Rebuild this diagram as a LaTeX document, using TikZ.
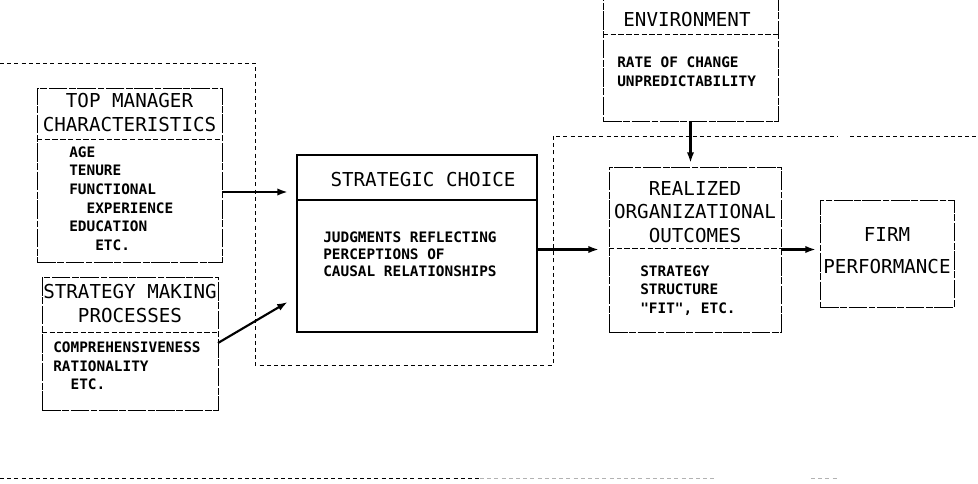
\documentclass[tikz,border=0pt]{standalone}
\usepackage{fontspec}
\usetikzlibrary{calc,arrows.meta}
\newfontfamily\plotfont{DejaVu Sans Mono}

\begin{document}
\begin{tikzpicture}[x=0.75pt, y=-0.75pt,
    box/.style={draw, line width=0.6pt, dash pattern=on 14pt off 1.2pt on 5pt off 1.2pt, inner sep=0pt, outer sep=0pt},
    solidbox/.style={draw, line width=0.9pt, inner sep=0pt, outer sep=0pt},
    divline/.style={line width=0.6pt, dash pattern=on 4pt off 1.8pt},
    frameline/.style={line width=0.6pt, dash pattern=on 3pt off 2.4pt},
    head/.style={font=\plotfont\fontsize{14.4}{17.5}\selectfont, align=center, inner sep=0pt},
    items/.style={font=\plotfont\bfseries\fontsize{10.8}{14}\selectfont, align=left, anchor=west, inner sep=0pt},
    arr/.style={-{Latex[length=8pt,width=5.5pt]}, line width=1.6pt}]
    \useasboundingbox (0,0) rectangle (978,484);
    \clip (0,0) rectangle (978,484);

    % frame lines
    \draw[frameline] (0,63) -- (255,63) -- (255,365) -- (553,365) -- (553,136) -- (838,136);
    \draw[frameline] (850,136) -- (978,136);
    \draw[frameline] (0,478) -- (480,478);
    \draw[frameline, gray!60] (480,478) -- (717,478);
    \draw[frameline, gray!60] (811,478) -- (839,478);

    \node[box, minimum width=138.75pt, minimum height=130.5pt] (tmc) at (129.5,175) {};
    \node[head] (tmchead) at ($(tmc.north)+(0,24.5)$) {TOP MANAGER\\CHARACTERISTICS};
    \node[items] (tmcitems) at ($(tmc.north west)+(32,110.5)$) {AGE\\TENURE\\FUNCTIONAL\\\phantom{XX}EXPERIENCE\\EDUCATION\\\phantom{XXX}ETC.};
    \draw[divline] ($(tmc.north west)+(0,51)$) -- ($(tmc.north east)+(0,51)$);

    \node[box, minimum width=132pt, minimum height=99.75pt] (smp) at (130,343.5) {};
    \node[head] (smphead) at ($(smp.north)+(0,26.5)$) {STRATEGY MAKING\\PROCESSES};
    \node[items] (smpitems) at ($(smp.north west)+(11,89)$) {COMPREHENSIVENESS\\RATIONALITY\\\phantom{XX}ETC.};
    \draw[divline] ($(smp.north west)+(0,55)$) -- ($(smp.north east)+(0,55)$);

    \node[solidbox, minimum width=180pt, minimum height=132.75pt] (sc) at (417,243.5) {};
    \node[head] (schead) at ($(sc.north)+(6,25)$) {STRATEGIC CHOICE};
    \node[items, font=\plotfont\bfseries\fontsize{10.8}{12.75}\selectfont] (scitems) at ($(sc.north west)+(26,99)$) {JUDGMENTS REFLECTING\\PERCEPTIONS OF\\CAUSAL RELATIONSHIPS};
    \draw[line width=0.9pt] ($(sc.north west)+(0,45)$) -- ($(sc.north east)+(0,45)$);

    \node[box, minimum width=131.25pt, minimum height=113.25pt] (env) at (690.5,45.5) {};
    \node[head] (envhead) at ($(env.north)+(-3.5,50)$) {ENVIRONMENT};
    \node[items] (envitems) at ($(env.north west)+(14,101.5)$) {RATE OF CHANGE\\UNPREDICTABILITY};
    \draw[divline] ($(env.north west)+(0,64)$) -- ($(env.north east)+(0,64)$);

    \node[box, minimum width=129pt, minimum height=123.75pt] (roo) at (695,249.5) {};
    \node[head] (roohead) at ($(roo.north)+(0,45)$) {REALIZED\\ORGANIZATIONAL\\OUTCOMES};
    \node[items] (rooitems) at ($(roo.north west)+(31,123.5)$) {STRATEGY\\STRUCTURE\\"FIT", ETC.};
    \draw[divline] ($(roo.north west)+(0,81)$) -- ($(roo.north east)+(0,81)$);

    \node[box, minimum width=100.5pt, minimum height=80.25pt] (fp) at (887,253.5) {};
    \node[head, font=\plotfont\fontsize{14.4}{24}\selectfont] (fphead) at ($(fp.center)+(0,-2.5)$) {FIRM\\PERFORMANCE};

    % arrows
    \coordinate (tmcout) at ($(tmc.east)+(0,17)$);
    \coordinate (smpout) at ($(smp.east)+(0,-0.5)$);
    \coordinate (scin) at ($(sc.west)+(0,53)$);
    \draw[arr, shorten >=6.75pt] (tmcout) -- (tmcout -| sc.west);
    \draw[arr, shorten >=8pt] (smpout) -- (scin);
    \draw[arr, shorten >=7.5pt] (sc.east |- roo.west) -- (roo.west);
    \draw[arr, shorten >=3pt] (env.south) -- (env.south |- roo.north);
    \draw[arr, shorten >=3pt] (roo.east) -- (roo.east -| fp.west);
\end{tikzpicture}
\end{document}
